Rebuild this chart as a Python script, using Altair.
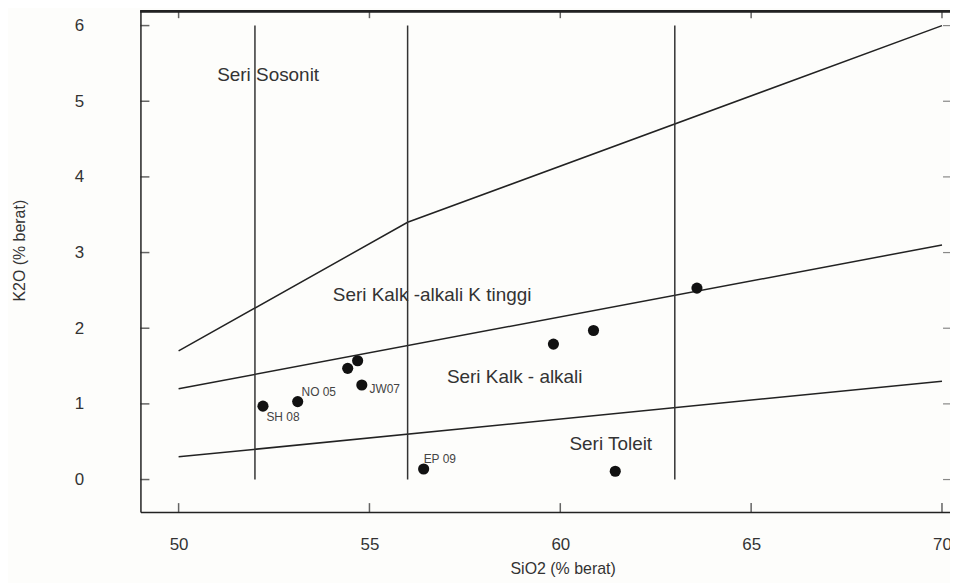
import altair as alt
import pandas as pd

# ---- data ----
upper_x = [50, 56, 70]
upper_y = [1.7, 3.4, 6.0]
mid_x = [50, 70]
mid_y = [1.2, 3.1]
low_x = [50, 70]
low_y = [0.3, 1.3]

vert_x = [52, 56, 63]
vert_bottom = 0
vert_top = 6

sample_sio2 = [52.21, 53.12, 54.43, 54.69, 54.80, 56.42, 59.82, 60.87, 61.44, 63.58]
sample_k2o = [0.97, 1.03, 1.47, 1.57, 1.25, 0.14, 1.79, 1.97, 0.11, 2.53]

label_text = ["SH 08", "NO 05", "JW07", "EP 09"]
label_x = [52.30, 53.22, 55.0, 56.42]
label_y = [0.83, 1.16, 1.19, 0.27]

region_text = ["Seri Sosonit", "Seri Kalk -alkali K tinggi", "Seri Kalk - alkali", "Seri Toleit"]
region_x = [51.01, 54.04, 57.03, 60.24]
region_y = [5.34, 2.44, 1.35, 0.47]

x_ticks = [50, 55, 60, 65, 70]
y_ticks = [0, 1, 2, 3, 4, 5, 6]

X_DOMAIN = [49, 70.21]
Y_DOMAIN = [-0.43, 6.19]

W, H = 813, 503
FONT = "Liberation Sans"
INK = "#222222"
TXT = "#333333"

# ---- tables ----
lines_df = pd.DataFrame(
    [{"s": "upper", "o": i, "x": x, "y": y} for i, (x, y) in enumerate(zip(upper_x, upper_y))]
    + [{"s": "mid", "o": i, "x": x, "y": y} for i, (x, y) in enumerate(zip(mid_x, mid_y))]
    + [{"s": "low", "o": i, "x": x, "y": y} for i, (x, y) in enumerate(zip(low_x, low_y))]
)
vert_df = pd.DataFrame({"x": vert_x, "y0": [vert_bottom] * len(vert_x), "y1": [vert_top] * len(vert_x)})
pts_df = pd.DataFrame({"x": sample_sio2, "y": sample_k2o})
lab_df = pd.DataFrame({"t": label_text, "x": label_x, "y": label_y})
reg_df = pd.DataFrame({"t": region_text, "x": region_x, "y": region_y})
xt_df = pd.DataFrame({"v": x_ticks})
yt_df = pd.DataFrame({"v": y_ticks})

xs = alt.Scale(domain=X_DOMAIN, nice=False, zero=False)
ys = alt.Scale(domain=Y_DOMAIN, nice=False, zero=False)

x_axis = alt.Axis(
    values=x_ticks, format="d", tickSize=0, grid=False, domainColor=INK, domainWidth=1.5,
    labelFont=FONT, labelFontSize=17, labelColor=TXT, labelPadding=25,
    title="SiO2 (% berat)", titleFont=FONT, titleFontSize=16, titleFontWeight="normal",
    titleColor=TXT, titlePadding=8, titleX=424,
)
y_axis = alt.Axis(
    values=y_ticks, format="d", tickSize=0, grid=False, domainColor=INK, domainWidth=1.5,
    labelFont=FONT, labelFontSize=17, labelColor=TXT, labelPadding=57,
    title="K2O (% berat)", titleFont=FONT, titleFontSize=16, titleFontWeight="normal",
    titleColor=TXT, titleX=-121, titleY=240, titleAngle=-90, titleAlign="center",
    titleBaseline="middle",
)

base_lines = alt.Chart(lines_df).mark_line(color=INK, strokeWidth=1.5).encode(
    x=alt.X("x:Q", scale=xs, axis=x_axis),
    y=alt.Y("y:Q", scale=ys, axis=y_axis),
    detail="s:N",
    order="o:Q",
)

verts = alt.Chart(vert_df).mark_rule(color="#333333", strokeWidth=1.5).encode(
    x=alt.X("x:Q", scale=xs), y=alt.Y("y0:Q", scale=ys), y2="y1:Q"
)

points = alt.Chart(pts_df).mark_point(
    filled=True, shape="circle", size=125, color="#111111", opacity=1
).encode(x=alt.X("x:Q", scale=xs), y=alt.Y("y:Q", scale=ys))

labels = alt.Chart(lab_df).mark_text(
    align="left", baseline="middle", font=FONT, fontSize=12, color="#444444"
).encode(x=alt.X("x:Q", scale=xs), y=alt.Y("y:Q", scale=ys), text="t:N")

regions = alt.Chart(reg_df).mark_text(
    align="left", baseline="middle", font=FONT, fontSize=19, color=TXT
).encode(x=alt.X("x:Q", scale=xs), y=alt.Y("y:Q", scale=ys), text="t:N")

# inward ticks (axis decoration)
ytick_left = alt.Chart(yt_df).mark_tick(orient="horizontal", size=9, thickness=1.5, color=INK).encode(
    y=alt.Y("v:Q", scale=ys), x=alt.datum(X_DOMAIN[0], scale=xs), xOffset=alt.value(4.5)
)
ytick_right = alt.Chart(yt_df).mark_tick(orient="horizontal", size=7, thickness=1.2, color="#555555").encode(
    y=alt.Y("v:Q", scale=ys), x=alt.datum(X_DOMAIN[1], scale=xs), xOffset=alt.value(-3.5)
)
xtick_bottom = alt.Chart(xt_df).mark_tick(orient="vertical", size=9, thickness=1.5, color=INK).encode(
    x=alt.X("v:Q", scale=xs), y=alt.datum(Y_DOMAIN[0], scale=ys), yOffset=alt.value(-4.5)
)
xtick_top = alt.Chart(xt_df).mark_tick(orient="vertical", size=7, thickness=1.5, color=INK).encode(
    x=alt.X("v:Q", scale=xs), y=alt.datum(Y_DOMAIN[1], scale=ys), yOffset=alt.value(3.5)
)
top_frame = alt.Chart(xt_df).mark_rule(color=INK, strokeWidth=2).encode(
    y=alt.datum(Y_DOMAIN[1], scale=ys), x=alt.value(0), x2=alt.value(W)
)

chart = (
    alt.layer(base_lines, verts, points, labels, regions,
              ytick_left, ytick_right, xtick_bottom, xtick_top, top_frame)
    .properties(
        width=W, height=H,
        autosize=alt.AutoSizeParams(type="none"),
        padding={"left": 133, "top": 2, "right": 0, "bottom": 70},
        background="#fdfdfb",
    )
    .configure_view(stroke=None)
)

chart.save("out.html", embed_options={"renderer": "svg", "actions": False})
